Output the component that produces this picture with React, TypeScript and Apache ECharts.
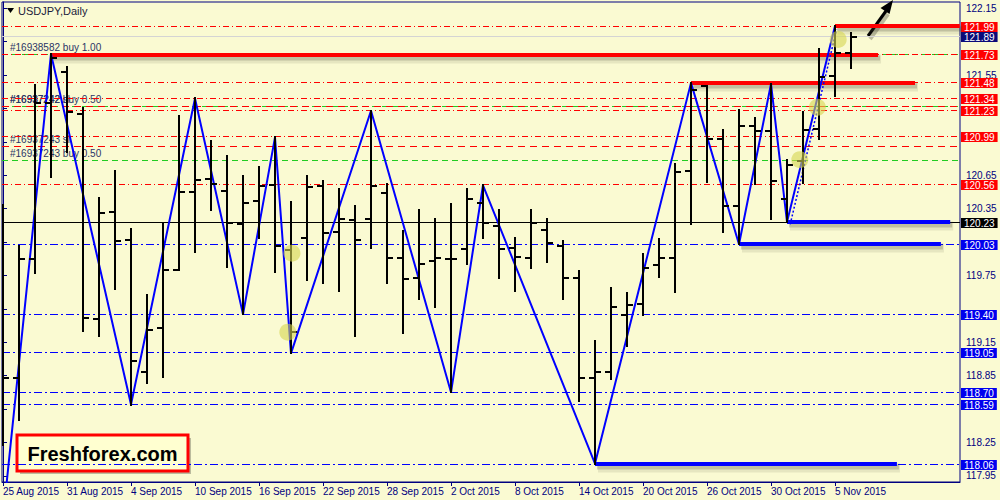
import React, { useEffect, useRef } from "react";
import * as echarts from "echarts";

// ---- data ----
const dateLabels = ["25 Aug 2015","31 Aug 2015","4 Sep 2015","10 Sep 2015","16 Sep 2015","22 Sep 2015","28 Sep 2015","2 Oct 2015","8 Oct 2015","14 Oct 2015","20 Oct 2015","26 Oct 2015","30 Oct 2015","5 Nov 2015"];
const dateTickIdx = [0,4,8,12,16,20,24,28,32,36,40,44,48,52];
const priceTicks = [117.95,118.25,118.55,118.85,119.15,119.45,119.75,120.05,120.35,120.65,120.95,121.25,121.55,121.85,122.15];
const priceLabels = [117.95,118.25,118.85,119.15,119.75,120.35,120.65,121.55,122.15];

const opens  = [119.00,118.83,119.90,121.30,121.58,121.20,119.36,120.32,120.07,118.88,119.28,119.80,120.50,120.62,120.51,120.21,120.42,120.56,119.98,120.09,120.55,120.14,120.25,120.26,120.49,119.91,119.73,119.88,119.90,119.99,120.40,120.19,120.00,119.91,120.16,120.01,119.73,118.83,118.88,119.39,119.49,119.84,119.91,120.69,121.45,120.98,120.37,121.09,121.05,120.44,120.78,121.07,121.54,121.75];
const highs  = [120.38,120.01,121.46,121.74,121.62,121.25,120.45,120.69,120.17,119.57,120.21,121.18,121.34,120.96,120.82,120.64,120.72,120.99,120.41,120.64,120.60,120.53,120.37,121.23,120.57,120.15,120.34,120.26,120.39,120.53,120.56,120.34,120.09,120.34,120.26,120.06,119.79,119.16,119.64,119.59,119.94,120.08,120.75,121.48,121.45,121.06,121.24,121.16,121.47,120.79,121.22,121.78,121.99,121.93];
const lows   = [118.23,118.45,119.77,120.63,120.86,119.25,119.21,119.63,118.59,118.78,118.84,119.80,119.96,120.34,119.83,119.40,120.09,119.78,119.05,119.71,119.68,119.61,119.21,120.00,119.68,119.23,119.54,119.47,118.70,119.85,120.09,119.73,119.61,119.82,119.87,119.54,118.62,118.06,118.82,119.12,119.39,119.74,119.60,120.21,120.59,120.14,120.03,120.57,120.26,120.23,120.58,120.98,121.36,121.61];
const closes = [118.83,119.90,121.30,121.70,121.22,119.37,120.31,120.06,118.98,119.26,119.80,120.50,120.61,120.57,120.22,120.40,120.55,120.01,119.24,120.54,120.13,120.26,120.07,120.55,119.91,119.72,119.85,119.91,119.90,120.44,120.22,119.99,119.92,120.22,120.04,119.73,118.83,118.88,119.47,119.48,119.82,119.91,120.68,121.42,120.98,120.37,121.09,121.05,120.60,120.74,121.06,121.53,121.75,121.89];

const zigIdx   = [-1, 3, 8, 12, 15, 17, 18, 23, 28, 30, 37, 43, 46, 48, 49, 52];
const zigPrice = [116.18, 121.74, 118.59, 121.34, 119.40, 120.99, 119.05, 121.23, 118.70, 120.56, 118.06, 121.48, 120.03, 121.47, 120.23, 121.99];
const dotIdx   = [49.2, 52.1];
const dotPrice = [120.21, 121.96];

const redLevels  = [121.99, 121.73, 121.48, 121.34, 121.23, 120.99, 120.56];
const blueLevels = [120.03, 119.40, 119.05, 118.70, 118.59, 118.06];
const bidLevels = [121.89];
const blackLevels = [120.23];

const buyPrices = [121.73, 121.27, 120.79];
const buyTexts  = ["#16938582 buy 1.00", "#16937242 buy 0.50", "#16937243 buy 0.50"];
const slPrices  = [121.26, 120.91];
const slTexts   = ["#16937242 sl", "#16937243 sl"];

const redSegStart  = [3, 43, 52];
const redSegEnd    = [54.69, 57.0, 59.8];
const redSegPrice  = [121.73, 121.48, 121.99];
const blueSegStart = [49, 46, 37];
const blueSegEnd   = [59.2, 58.62, 55.87];
const blueSegPrice = [120.23, 120.03, 118.06];

const markIdx   = [18.06, 17.8, 49.8, 50.9, 52.2];
const markPrice = [119.95, 119.24, 120.79, 121.26, 121.87];

const BG = "#FAFAD2";
const NAVY = "#000080";
const FONT = "Liberation Sans";

// put a 1px line on a whole (even) pixel row so that it stays crisp and keeps its colour
const snap = (v: number) => 2 * Math.round((v - 0.5) / 2) + 0.5;

function levelSeries(prices: number[], stroke: string, dash: number[] | null, box: string | null, z: number) {
  return {
    type: "custom", z, silent: true, clip: false,
    data: prices.map((p) => [0, p]),
    encode: { x: 0, y: 1 },
    renderItem: (params: any, api: any) => {
      const cs = params.coordSys;
      const price = api.value(1);
      const y = snap(api.coord([0, price])[1]);
      const children: any[] = [
        { type: "line", shape: { x1: cs.x, y1: y, x2: cs.x + cs.width, y2: y },
          style: { stroke, lineWidth: 1, lineDash: dash || undefined } },
      ];
      if (box) {
        children.push({
          type: "text", x: cs.x + cs.width + 1, y: Math.round(y),
          style: {
            text: price.toFixed(2), fill: "#FFFFFF", backgroundColor: box,
            padding: [1, 3, 0, 3], lineHeight: 9, font: `10px '${FONT}'`,
            verticalAlign: "middle", align: "left",
          },
        });
      }
      return { type: "group", children };
    },
  };
}

function orderSeries(prices: number[], texts: string[], stroke: string, dash: number[], z: number) {
  return {
    type: "custom", z, silent: true, clip: false,
    data: prices.map((p, i) => [0, p, i]),
    encode: { x: 0, y: 1 },
    renderItem: (params: any, api: any) => {
      const cs = params.coordSys;
      const y = snap(api.coord([0, api.value(1)])[1]);
      return {
        type: "group",
        children: [
          { type: "line", shape: { x1: cs.x, y1: y, x2: cs.x + cs.width, y2: y }, style: { stroke, lineWidth: 1, lineDash: dash } },
          { type: "text", x: cs.x + 8, y: y - 2,
            style: { text: texts[api.value(2)], fill: "#2A3466", font: `10px '${FONT}'`, verticalAlign: "bottom", align: "left" } },
        ],
      };
    },
  };
}

function segSeries(starts: number[], ends: number[], prices: number[], stroke: string, z: number) {
  return {
    type: "custom", z, silent: true, clip: false,
    data: prices.map((p, i) => [starts[i], p, ends[i]]),
    encode: { x: 0, y: 1 },
    renderItem: (params: any, api: any) => {
      const a = api.coord([api.value(0), api.value(1)]);
      const b = api.coord([api.value(2), api.value(1)]);
      const y = Math.round(a[1]);
      return {
        type: "group",
        children: [
          { type: "line", shape: { x1: a[0] + 3, y1: y + 4, x2: b[0] + 3, y2: y + 4 }, style: { stroke: "rgba(60,60,40,0.10)", lineWidth: 9 } },
          { type: "line", shape: { x1: a[0] + 2, y1: y + 3, x2: b[0] + 2, y2: y + 3 }, style: { stroke: "rgba(60,60,40,0.22)", lineWidth: 5 } },
          { type: "line", shape: { x1: a[0], y1: y, x2: b[0], y2: y }, style: { stroke, lineWidth: 4 } },
        ],
      };
    },
  };
}

export default function App() {
  const ref = useRef<HTMLDivElement>(null);
  useEffect(() => {
    const chart = echarts.init(ref.current!, null, { renderer: "svg" });
    const barData = opens.map((o, i) => [i, o, highs[i], lows[i], closes[i]]);

    chart.setOption({
      animation: false,
      backgroundColor: BG,
      grid: { left: 2, right: 40, top: 2, bottom: 18, show: true, borderColor: NAVY, borderWidth: 1, backgroundColor: BG },
      xAxis: {
        type: "value", min: -0.0625, max: 59.8125,
        axisLine: { show: true, lineStyle: { color: NAVY, width: 1 } },
        axisTick: { show: true, customValues: dateTickIdx, length: 4, lineStyle: { color: NAVY } },
        axisLabel: {
          show: true, customValues: dateTickIdx, align: "left", margin: 4,
          color: NAVY, fontSize: 10, fontFamily: FONT,
          formatter: (v: number) => dateLabels[dateTickIdx.indexOf(Math.round(v))] ?? "",
        },
        splitLine: { show: false },
      },
      yAxis: {
        type: "value", position: "right", min: 117.894, max: 122.2066,
        axisLine: { show: true, lineStyle: { color: NAVY, width: 1 } },
        axisTick: { show: true, customValues: priceTicks, length: 4, lineStyle: { color: NAVY } },
        axisLabel: {
          show: true, customValues: priceLabels, margin: 6, color: NAVY, fontSize: 10, fontFamily: FONT,
          formatter: (v: number) => v.toFixed(2),
        },
        splitLine: { show: false },
      },
      series: [
        orderSeries(buyPrices, buyTexts, "#22CC22", [6, 4], 1),
        orderSeries(slPrices, slTexts, "#FF0000", [7, 5], 1),
        levelSeries(bidLevels, "#D4D4D4", null, "#0A0A78", 1),
        levelSeries(blackLevels, "#000000", null, "#000000", 1),
        levelSeries(redLevels, "#FF0000", [6, 3, 1, 3], "#FF0000", 2),
        levelSeries(blueLevels, "#0000FF", [8, 3, 2, 3], "#0000EE", 2),
        segSeries(redSegStart, redSegEnd, redSegPrice, "#FF0000", 3),
        segSeries(blueSegStart, blueSegEnd, blueSegPrice, "#0000FF", 3),
        {
          type: "line", z: 4, silent: true, symbol: "none", clip: true,
          data: zigIdx.map((k, i) => [k, zigPrice[i]]),
          lineStyle: { color: "#0000FF", width: 2 },
        },
        {
          type: "line", z: 4, silent: true, symbol: "none", clip: true,
          data: dotIdx.map((k, i) => [k, dotPrice[i]]),
          lineStyle: { color: "#0000FF", width: 1.5, type: [2, 2] },
        },
        {
          type: "custom", z: 5, silent: true, clip: true,
          data: barData,
          encode: { x: 0, y: [1, 2, 3, 4] },
          renderItem: (params: any, api: any) => {
            const k = api.value(0);
            const o = api.coord([k, api.value(1)]);
            const h = api.coord([k, api.value(2)]);
            const l = api.coord([k, api.value(3)]);
            const c = api.coord([k, api.value(4)]);
            const x = Math.round(o[0]);
            const st = { stroke: "#000000", lineWidth: 2 };
            return {
              type: "group",
              children: [
                { type: "line", shape: { x1: x, y1: Math.round(h[1]) - 1, x2: x, y2: Math.round(l[1]) + 1 }, style: st },
                { type: "line", shape: { x1: x - 6, y1: Math.round(o[1]), x2: x, y2: Math.round(o[1]) }, style: st },
                { type: "line", shape: { x1: x, y1: Math.round(c[1]), x2: x + 6, y2: Math.round(c[1]) }, style: st },
              ],
            };
          },
        },
        {
          type: "scatter", z: 6, silent: true,
          data: markIdx.map((k, i) => [k, markPrice[i]]),
          symbol: "circle", symbolSize: 17,
          itemStyle: { color: "rgba(214,214,80,0.75)" },
        },
      ],
      graphic: [
        { type: "polygon", shape: { points: [[7, 8], [14, 8], [10.5, 13]] }, style: { fill: "#000" }, z: 10 },
        { type: "text", x: 18, y: 5, style: { text: "USDJPY,Daily", fill: "#1a1a3a", font: `11px '${FONT}'` }, z: 10 },
        {
          type: "group", z: 20,
          children: [
            { type: "rect", shape: { x: 20, y: 438, width: 171, height: 36 }, style: { fill: "rgba(0,0,0,0.25)" } },
            { type: "rect", shape: { x: 17, y: 435, width: 171, height: 36 }, style: { fill: "#FFFFD0", stroke: "#FF0000", lineWidth: 3 } },
            {
              type: "text", x: 102.5, y: 453.5,
              style: { text: "Freshforex.com", fill: "#000", font: `bold 20px '${FONT}'`, textAlign: "center", textVerticalAlign: "middle" },
            },
          ],
        },
        {
          type: "group", z: 20,
          children: [
            { type: "line", shape: { x1: 870, y1: 39, x2: 888, y2: 14 }, style: { stroke: "rgba(0,0,0,0.25)", lineWidth: 4 } },
            { type: "line", shape: { x1: 868, y1: 36, x2: 886, y2: 11 }, style: { stroke: "#000", lineWidth: 3 } },
            { type: "polygon", shape: { points: [[893, 0], [889.5, 14], [880.5, 8]] }, style: { fill: "#000" } },
          ],
        },
      ],
    });
    return () => chart.dispose();
  }, []);
  return <div ref={ref} style={{ position: "fixed", left: 0, top: 0, width: 1000, height: 500, background: BG }} />;
}
